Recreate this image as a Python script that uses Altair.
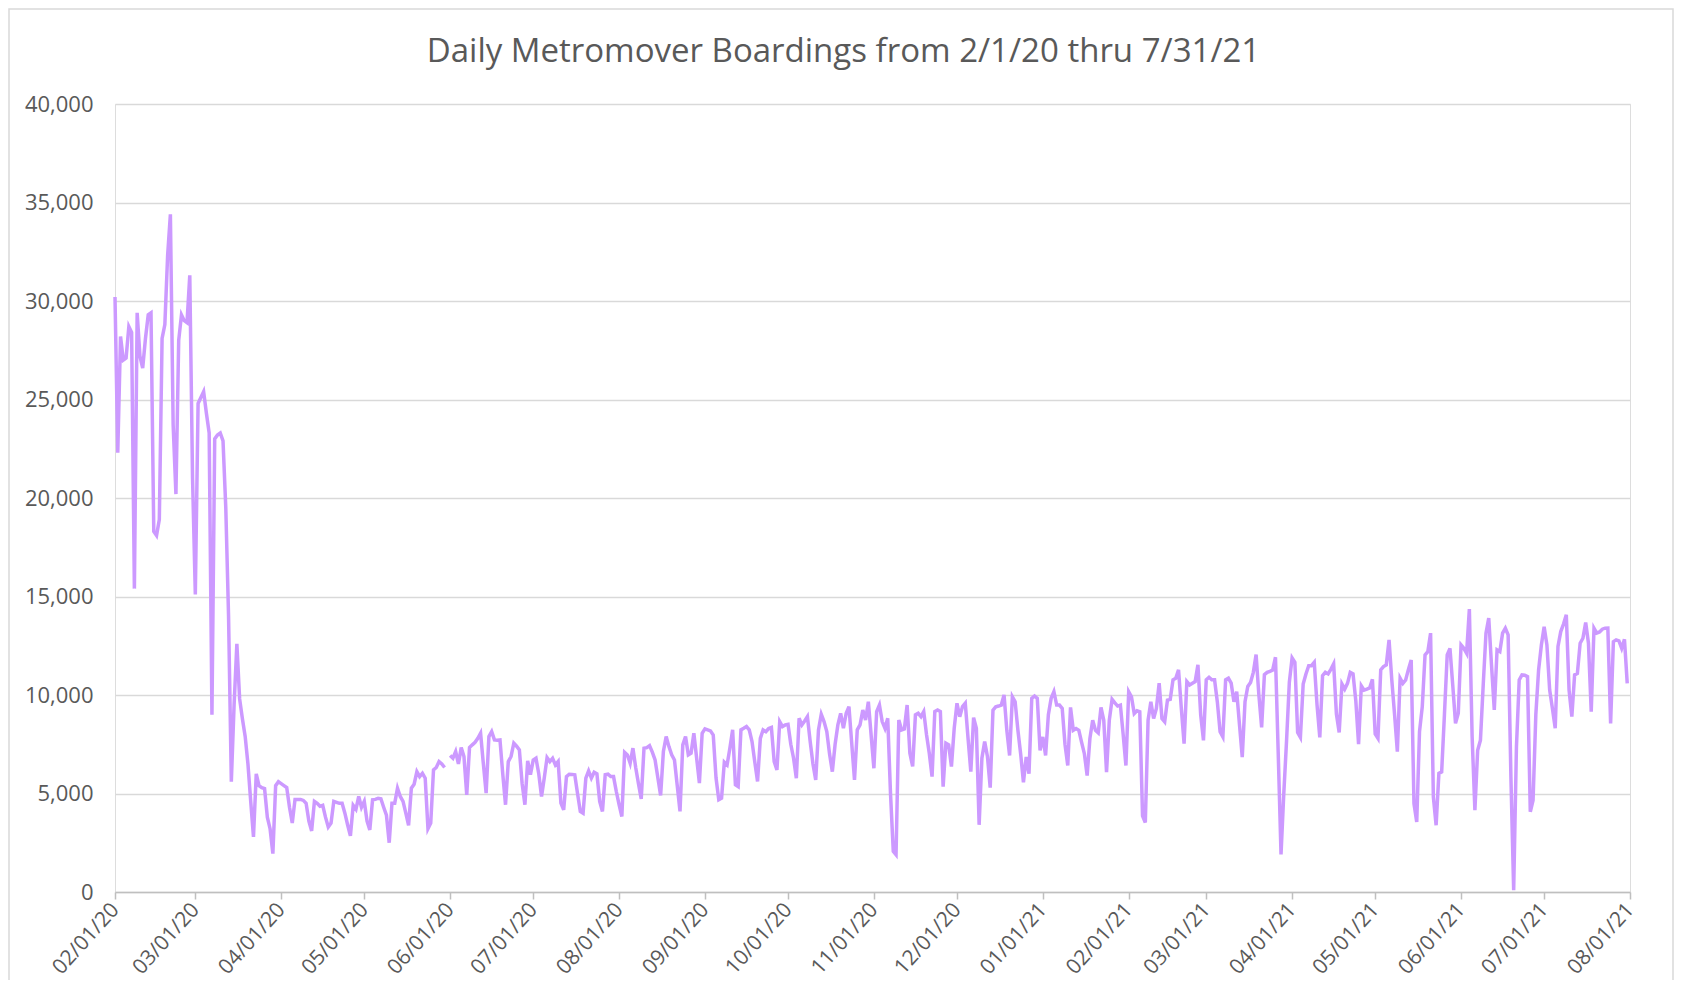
import altair as alt
import pandas as pd

# Daily boardings, one list per month
feb20 = [30200, 22300, 28200, 27000, 27100, 28700, 28400, 15400, 29400, 27200, 26600, 28100, 29300, 29400,
         18300, 18100, 18900, 28100, 28800, 32300, 34400, 23700, 20200, 28000, 29300, 29000, 28900, 31300, 21000]
mar20 = [15100, 24800, 25100, 25400, 24300, 23300, 9000, 23000, 23200, 23300, 22900, 19500, 14000, 5600,
         9500, 12600, 9800, 8800, 7900, 6500, 4600, 2800, 6000, 5400, 5300, 5250, 3800, 3200, 1950, 5400, 5600]
apr20 = [5500, 5400, 5300, 4300, 3500, 4700, 4700, 4700, 4650, 4500, 3600, 3100, 4600, 4500, 4350,
         4400, 3800, 3300, 3500, 4600, 4550, 4500, 4500, 4000, 3400, 2850, 4400, 4200, 4850, 4300]
may20 = [4600, 3600, 3150, 4680, 4700, 4760, 4730, 4300, 3900, 2500, 4510, 4510, 5270, 4850, 4600,
         4000, 3380, 5270, 5470, 6110, 5860, 6030, 5780, 3210, 3500, 6200, 6320, 6620, 6500, 6320, None]
jun20 = [6930, 6790, 7130, 6500, 7330, 6880, 4930, 7330, 7470, 7600, 7800, 8060, 6500, 5020, 7890,
         8140, 7720, 7700, 7720, 6000, 4430, 6620, 6880, 7550, 7400, 7210, 5500, 4430, 6660, 5950]
jul20 = [6700, 6790, 6000, 4850, 5800, 6820, 6620, 6790, 6450, 6620, 4510, 4170, 5860, 5980, 5970,
         5950, 5000, 4090, 4000, 5780, 6150, 5780, 6080, 6000, 4600, 4090, 5950, 5980, 5860, 5860, 5100]
aug20 = [4430, 3830, 7090, 6960, 6540, 7300, 6320, 5500, 4730, 7300, 7330, 7430, 7100, 6700, 5800,
         4900, 7130, 7890, 7380, 6960, 6700, 5400, 4090, 7470, 7890, 6960, 7050, 8060, 6800, 5530, 8060]
sep20 = [8280, 8230, 8180, 7970, 5800, 4680, 4760, 6590, 6450, 7300, 8230, 5440, 5350, 8230, 8310,
         8400, 8230, 7640, 6600, 5610, 7800, 8230, 8140, 8300, 8350, 6620, 6200, 8650, 8400, 8480]
oct20 = [8510, 7500, 6790, 5780, 8820, 8480, 8680, 8900, 7640, 6500, 5690, 8230, 9020, 8650, 8140,
         7000, 6110, 7500, 8480, 9070, 8310, 9070, 9410, 7550, 5690, 8230, 8480, 9240, 8730, 9660, 7970]
nov20 = [6280, 9160, 9490, 8650, 8310, 8820, 5000, 2060, 1890, 8730, 8230, 8280, 9490, 7040, 6370,
         8990, 9070, 8900, 9160, 8000, 7040, 5860, 9160, 9240, 9160, 5350, 7550, 7470, 6370, 8310]
dec20 = [9580, 8900, 9410, 9580, 7800, 6110, 8850, 8310, 3410, 6790, 7640, 6880, 5300, 9230, 9400,
         9440, 9490, 10000, 8210, 6930, 9910, 9660, 8210, 7000, 5570, 6850, 6000, 9830, 9950, 9830, 7190]
jan21 = [7870, 6930, 9000, 9830, 10170, 9490, 9490, 9320, 7500, 6420, 9370, 8210, 8300, 8210, 7600,
         7020, 5910, 7800, 8720, 8210, 8080, 9370, 8720, 6080, 8720, 9780, 9600, 9440, 9490, 8000, 6420]
feb21 = [10170, 9910, 9060, 9200, 9150, 3870, 3530, 8720, 9660, 8810, 9320, 10600, 8810, 8640,
         9740, 9780, 10770, 10850, 11280, 9320, 7530, 10680, 10510, 10600, 10680, 11530, 8980, 7700]
mar21 = [10770, 10900, 10770, 10770, 9660, 8130, 7870, 10770, 10850, 10600, 9660, 10170, 8500, 6850, 9660,
         10430, 10640, 11150, 12050, 10000, 8360, 11030, 11150, 11200, 11270, 11920, 7000, 1910, 5000, 7680, 10640]
apr21 = [11880, 11660, 8100, 7850, 10560, 11070, 11490, 11490, 11660, 9500, 7850, 10980, 11150, 11070, 11300,
         11580, 9030, 8100, 10560, 10300, 10590, 11150, 11070, 9710, 7510, 10470, 10250, 10300, 10360, 10800]
may21 = [8020, 7800, 11270, 11440, 11530, 12800, 10760, 9000, 7120, 10850, 10590, 10760, 11300, 11780, 4490,
         3560, 8140, 9410, 12030, 12200, 13140, 4830, 3390, 6020, 6100, 9000, 12030, 12370, 10500, 8560, 9070]
jun21 = [12540, 12370, 12120, 14360, 7880, 4150, 7200, 7710, 10500, 13140, 13900, 11500, 9240, 12290, 12200,
         13140, 13390, 13050, 5850, 90, 7370, 10760, 11020, 11000, 10930, 4070, 4660, 9000, 11270, 12540]
jul21 = [13470, 12540, 10250, 9300, 8310, 12460, 13220, 13600, 14070, 10250, 8900, 11020, 11100, 12630, 12880,
         13680, 12630, 9150, 13390, 13140, 13200, 13340, 13390, 13400, 8560, 12710, 12800, 12750, 12370, 12830, 10590]

months = [feb20, mar20, apr20, may20, jun20, jul20, aug20, sep20, oct20, nov20, dec20,
          jan21, feb21, mar21, apr21, may21, jun21, jul21]
values = [v for m in months for v in m]
dates = pd.date_range("2020-02-01", periods=len(values), freq="D").strftime("%Y-%m-%d")
df = pd.DataFrame({"date": list(dates), "boardings": values})

tick_months = [(2020, m) for m in range(2, 13)] + [(2021, m) for m in range(1, 9)]
tick_values = [alt.DateTime(year=y, month=m, date=1, utc=True) for y, m in tick_months]
y_ticks = list(range(0, 40001, 5000))

GRAY = "#595959"
FONT = "Open Sans"

line = alt.Chart(df).mark_line(
    color="#cc99ff", strokeWidth=3.5, invalid="break-paths-filter-domains"
).encode(
    x=alt.X(
        "date:T",
        scale=alt.Scale(type="utc", domain=[tick_values[0], tick_values[-1]]),
        axis=alt.Axis(
            values=tick_values, format="%m/%d/%y", labelAngle=-48, title=None, grid=False,
            domainColor="#bfbfbf", domainWidth=1.5, tickColor="#bfbfbf", tickWidth=1.5, tickSize=7,
            labelColor=GRAY, labelFont=FONT, labelFontSize=21, labelPadding=7,
            labelBaseline="middle", labelAlign="right", labelOverlap=False,
        ),
    ),
    y=alt.Y(
        "boardings:Q",
        scale=alt.Scale(domain=[0, 40000]),
        axis=alt.Axis(
            values=y_ticks, format=",.0f", title=None, domain=False, ticks=False,
            gridColor="#d9d9d9", gridWidth=1.5, labelPadding=22,
            labelColor=GRAY, labelFont=FONT, labelFontSize=22,
        ),
    ),
)

frame = alt.Chart(pd.DataFrame({"k": [0]})).mark_rect(
    fillOpacity=0, stroke="#d9d9d9", strokeWidth=1.5
).encode(
    x=alt.value(-106), x2=alt.value(1558), y=alt.value(-95), y2=alt.value(905)
)

chart = alt.layer(frame, line).properties(
    width=1515,
    height=788,
    title=alt.TitleParams(
        "Daily Metromover Boardings from 2/1/20 thru 7/31/21",
        font=FONT, fontSize=33, fontWeight="normal", color=GRAY,
        anchor="middle", frame="group", dx=-29, offset=-61,
    ),
    autosize=alt.AutoSizeParams(type="none"),
    padding={"left": 107, "top": 96, "right": 45, "bottom": 88},
).configure_view(stroke=None).configure(background="white")

chart.save("out.html", embed_options={"renderer": "svg", "actions": False})
